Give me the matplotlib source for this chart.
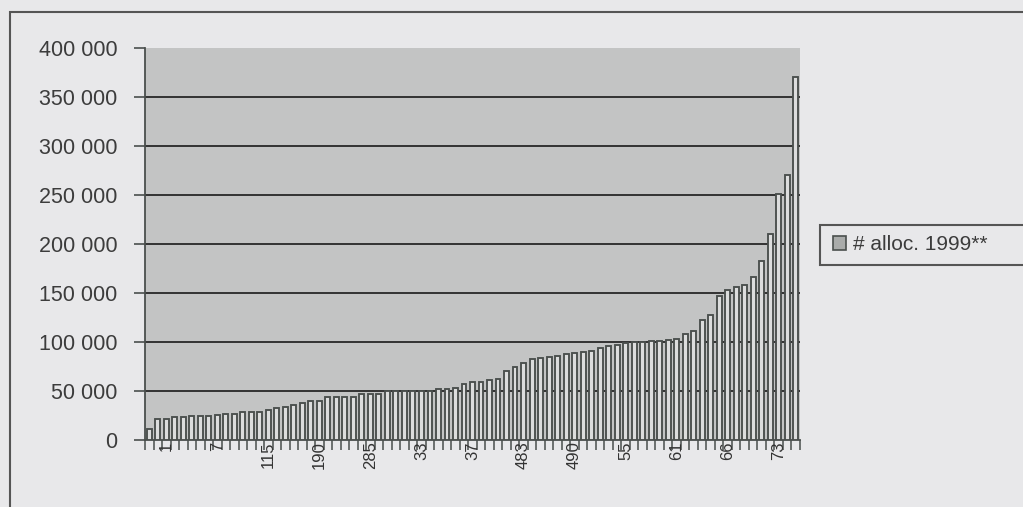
import matplotlib.pyplot as plt
from matplotlib.patches import Rectangle, Patch
from matplotlib.ticker import FuncFormatter, FixedLocator

# allocations per unit, sorted ascending
alloc_1999 = [
    11000, 21000, 21000, 23000, 23000, 24000, 24000, 25000, 26000, 26500,
    27000, 29000, 29000, 29000, 31000, 33000, 33500, 35500, 37500, 40000,
    40000, 43500, 43500, 43500, 44000, 46500, 46500, 47000, 49500, 49500,
    49500, 49500, 50000, 50000, 52500, 52500, 53000, 57000, 59500, 59500,
    61500, 62000, 70000, 74500, 79000, 82500, 83500, 84500, 85500, 87500,
    88500, 90000, 91000, 94000, 96000, 96500, 99000, 100000, 100500, 101000,
    101500, 102500, 103000, 108000, 111000, 122000, 128000, 147000, 153500, 156000,
    158500, 166000, 183000, 210000, 251000, 270000, 370000,
]
label_pos = [2, 8, 14, 20, 26, 32, 38, 44, 50, 56, 62, 68, 74]
label_text = ["1", "7", "115", "190", "285", "33", "37", "483", "490", "55", "61", "66", "73"]
y_ticks = [0, 50000, 100000, 150000, 200000, 250000, 300000, 350000, 400000]

bg = "#e8e8ea"
dark = "#4a4f4d"
txt = "#3c3c3c"

plt.rcParams["font.family"] = ["Liberation Sans", "DejaVu Sans"]

fig = plt.figure(figsize=(10.23, 5.07), dpi=100, facecolor=bg)
ax = fig.add_axes([145 / 1023, 67 / 507, 655 / 1023, 392 / 507])
ax.set_facecolor("#c3c4c4")

x = list(range(len(alloc_1999)))
ax.bar(x, alloc_1999, width=0.58, color="#dcdddd", edgecolor=dark, linewidth=1.35, zorder=3)

ax.set_xlim(-0.5, len(alloc_1999) - 0.5)
ax.set_ylim(0, 400000)

# horizontal gridlines
for v in y_ticks[1:-1]:
    ax.axhline(v, color="#333333", linewidth=1.4, zorder=1)

ax.set_yticks(y_ticks)
ax.yaxis.set_major_formatter(FuncFormatter(lambda v, p: f"{int(v):,}".replace(",", " ")))
ax.tick_params(axis="y", direction="out", length=8, width=1.2, color=dark,
               labelsize=15.5, labelcolor=txt, pad=12)

# category boundary ticks plus sparse rotated labels
ax.xaxis.set_major_locator(FixedLocator([i - 0.5 for i in range(len(alloc_1999) + 1)]))
ax.set_xticklabels([])
ax.xaxis.set_minor_locator(FixedLocator(label_pos))
ax.set_xticklabels(label_text, minor=True, rotation=90)
ax.tick_params(axis="x", which="major", direction="out", length=7, width=1.1, color=dark)
ax.tick_params(axis="x", which="minor", length=0, labelsize=12, labelcolor="#333333", pad=1)

for s in ["top", "right"]:
    ax.spines[s].set_visible(False)
for s in ["left", "bottom"]:
    ax.spines[s].set_color(dark)
    ax.spines[s].set_linewidth(1.3)

# outer chart frame
fig.patches.append(Rectangle((10 / 1023, -0.05), 1.1, (507 - 12) / 507 + 0.05,
                             transform=fig.transFigure, fill=False,
                             edgecolor="#555555", linewidth=1.5))

# legend box running off the right edge
fig.patches.append(Rectangle((820 / 1023, (507 - 265) / 507), 0.3, 40 / 507,
                             transform=fig.transFigure, facecolor=bg,
                             edgecolor="#555555", linewidth=1.5))
handle = Patch(facecolor="#a9abaa", edgecolor=dark, linewidth=1.2, label="# alloc. 1999**")
leg = fig.legend(handles=[handle], loc="center left",
                 bbox_to_anchor=(814 / 1023, (507 - 245) / 507),
                 fontsize=15, frameon=False, handlelength=0.65,
                 handleheight=0.65, handletextpad=0.3, labelcolor=txt)

fig.savefig("out.png", dpi=100, facecolor=bg)
